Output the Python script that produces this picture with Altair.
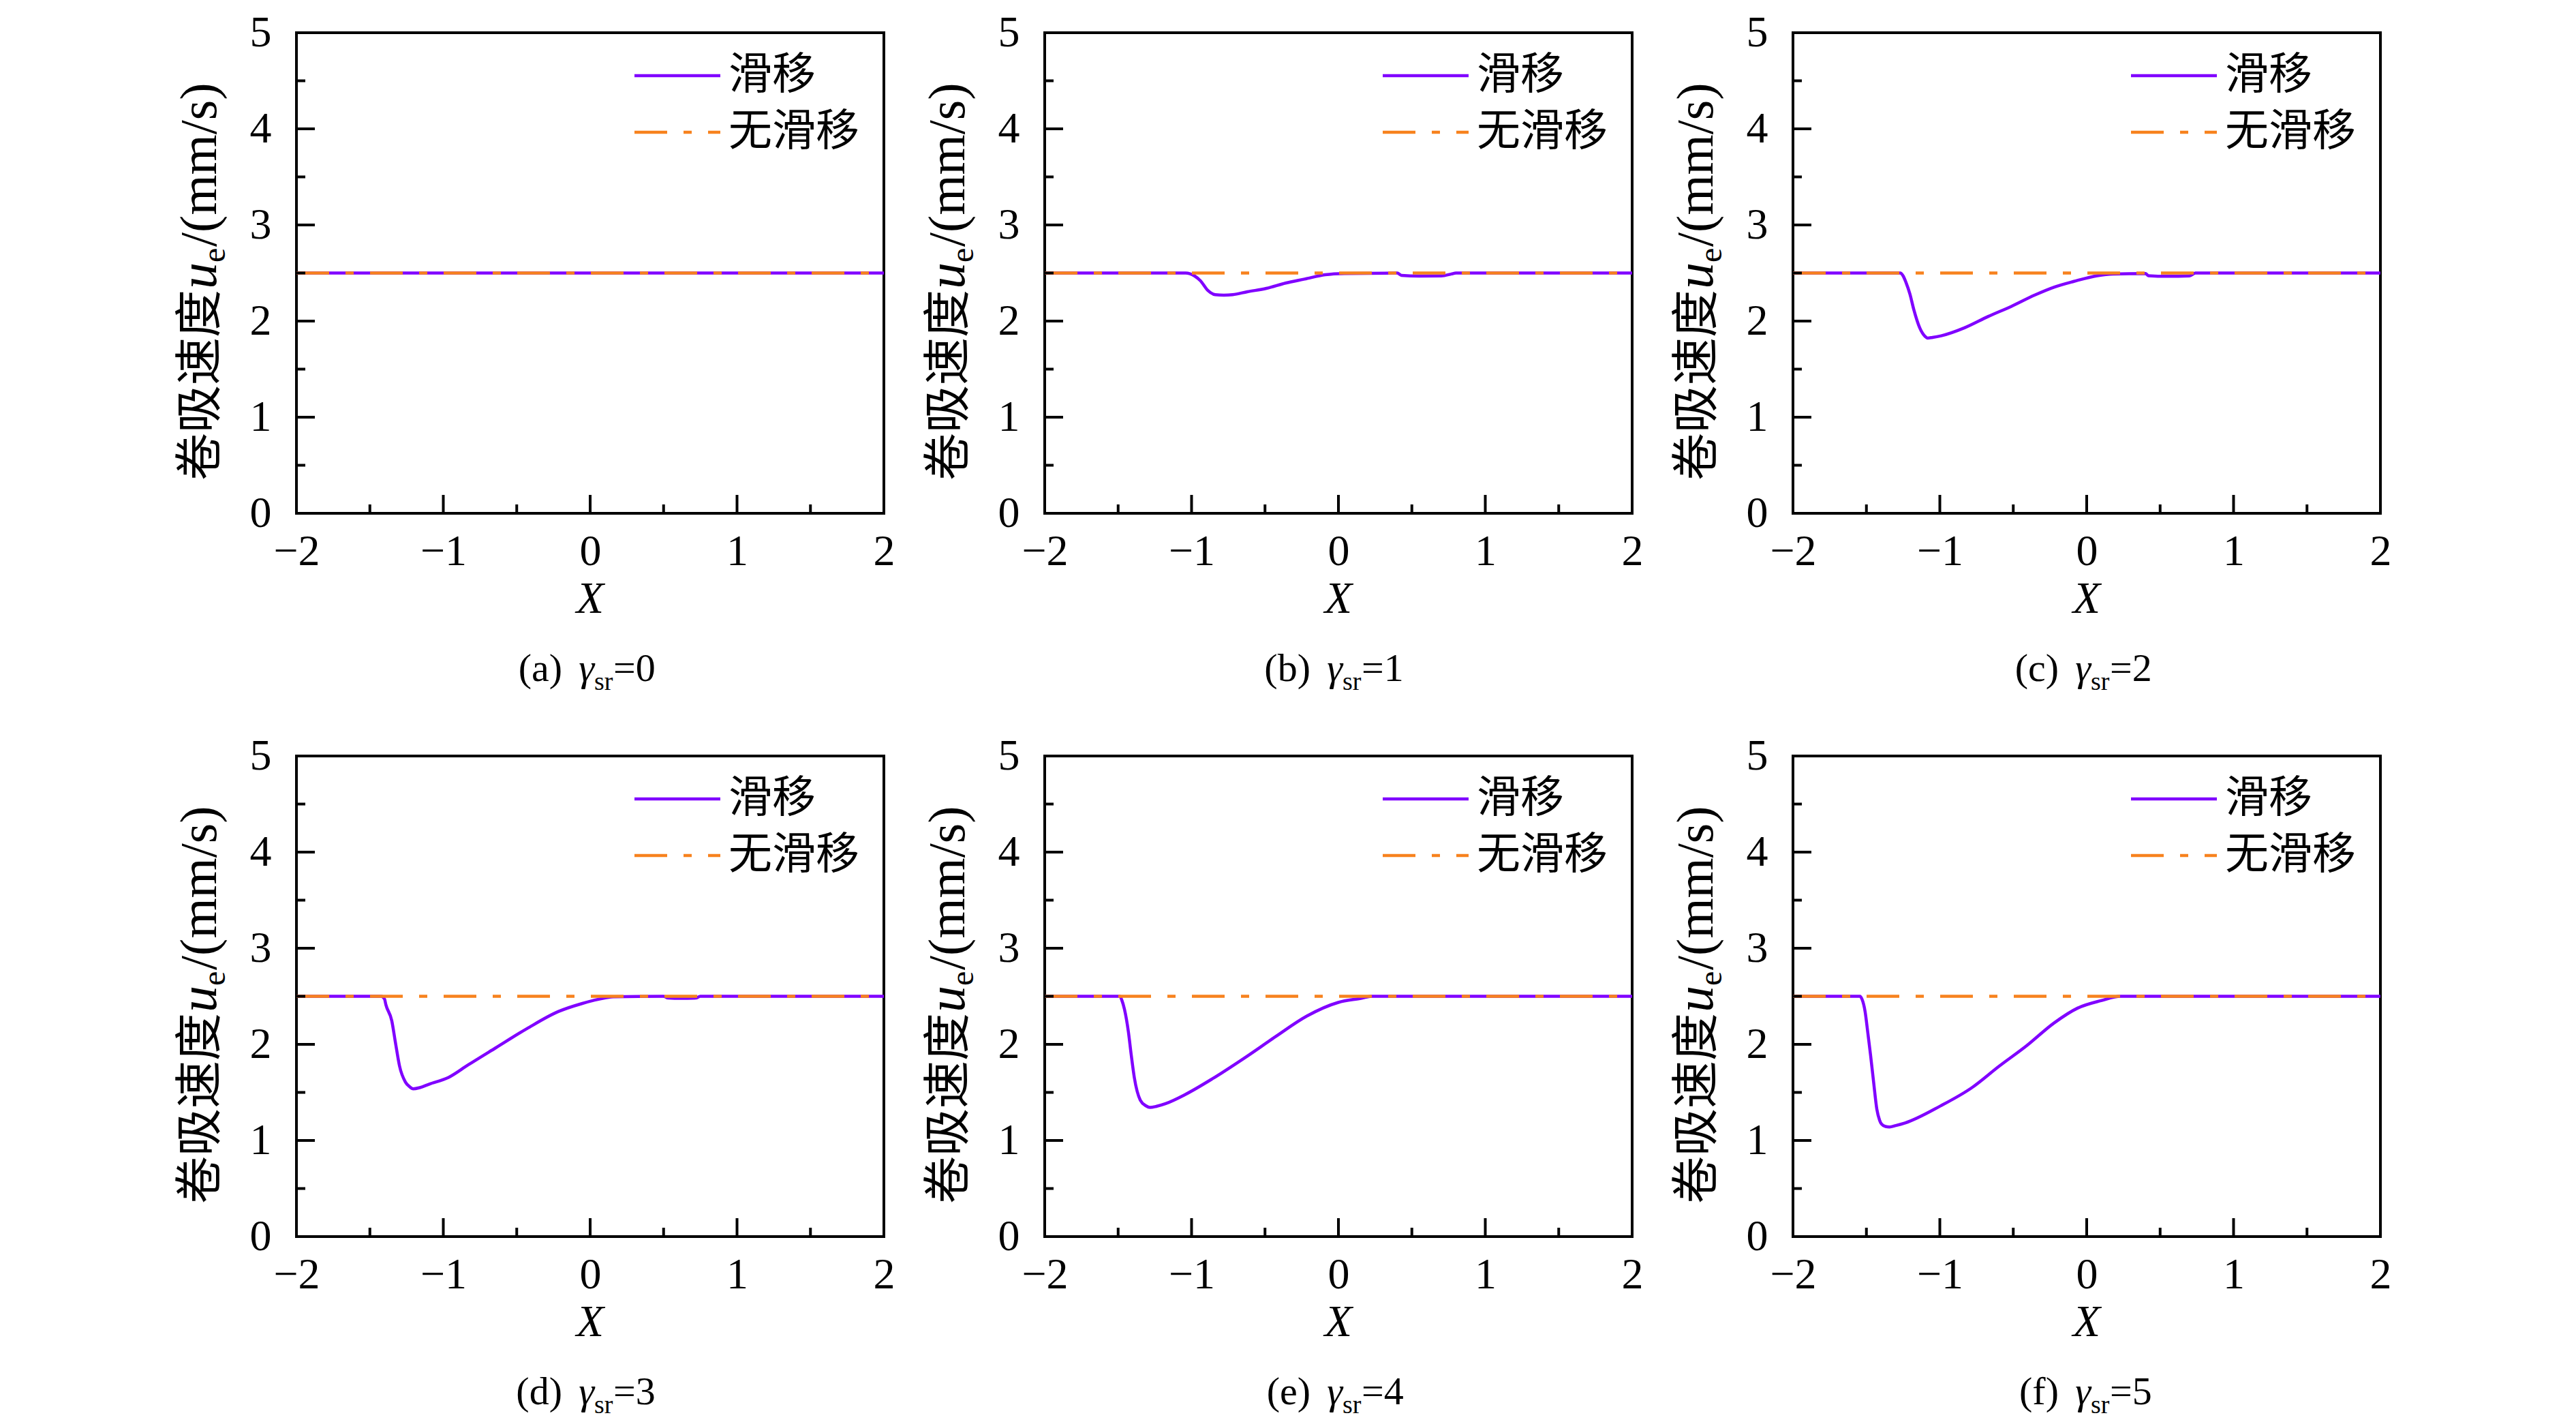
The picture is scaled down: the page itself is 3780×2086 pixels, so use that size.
import altair as alt
import pandas as pd

# ---------------- data ----------------
LETTERS = ["(a)", "(b)", "(c)", "(d)", "(e)", "(f)"]
GAMMA_SR = ["0", "1", "2", "3", "4", "5"]
SERIES = ["滑移", "无滑移"]

X_A = [-2.0, 2.0]
U_A = [2.5, 2.5]

X_B = [-2.0, -1.04, -0.98, -0.94, -0.89, -0.84, -0.78, -0.72, -0.62, -0.49, -0.36, -0.23, -0.09,
       0.04, 0.40, 0.43, 0.55, 0.70, 0.77, 0.80, 2.0]
U_B = [2.5, 2.5, 2.47, 2.42, 2.32, 2.275, 2.27, 2.275, 2.305, 2.34, 2.395, 2.437, 2.482,
       2.495, 2.5, 2.475, 2.468, 2.47, 2.49, 2.5, 2.5]

X_C = [-2.0, -1.27, -1.25, -1.23, -1.204, -1.177, -1.137, -1.10, -1.084, -1.05, -0.991, -0.832,
       -0.672, -0.513, -0.353, -0.22, -0.087, 0.072, 0.178, 0.40, 0.42, 0.55, 0.70, 0.74, 2.0]
U_C = [2.5, 2.5, 2.47, 2.40, 2.283, 2.118, 1.93, 1.84, 1.823, 1.83, 1.847, 1.93,
       2.047, 2.153, 2.271, 2.354, 2.413, 2.472, 2.49, 2.495, 2.472, 2.466, 2.47, 2.5, 2.5]

X_D = [-2.0, -1.423, -1.40, -1.391, -1.351, -1.325, -1.298, -1.258, -1.23, -1.205, -1.16, -1.098,
       -0.964, -0.831, -0.644, -0.43, -0.217, -0.057, 0.104, 0.157, 0.50, 0.53, 0.62, 0.72, 0.75, 2.0]
U_D = [2.5, 2.5, 2.47, 2.412, 2.247, 2.01, 1.774, 1.608, 1.56, 1.537, 1.55, 1.585,
       1.656, 1.786, 1.963, 2.164, 2.341, 2.424, 2.483, 2.495, 2.5, 2.482, 2.478, 2.482, 2.5, 2.5]

X_E = [-2.0, -1.488, -1.475, -1.457, -1.43, -1.411, -1.39, -1.349, -1.31, -1.283, -1.24, -1.176,
       -1.042, -0.856, -0.642, -0.428, -0.215, -0.001, 0.159, 0.225, 2.0]
U_E = [2.5, 2.5, 2.46, 2.365, 2.128, 1.892, 1.656, 1.419, 1.36, 1.344, 1.355, 1.384,
       1.479, 1.644, 1.856, 2.08, 2.294, 2.436, 2.48, 2.5, 2.5]

X_F = [-2.0, -1.544, -1.53, -1.509, -1.491, -1.472, -1.451, -1.429, -1.41, -1.397, -1.37, -1.343,
       -1.30, -1.237, -0.996, -0.783, -0.596, -0.409, -0.222, -0.062, 0.098, 0.232, 2.0]
U_F = [2.5, 2.5, 2.47, 2.342, 2.128, 1.892, 1.608, 1.325, 1.21, 1.171, 1.145, 1.14,
       1.155, 1.182, 1.359, 1.548, 1.773, 1.986, 2.223, 2.377, 2.455, 2.5, 2.5]

SLIP = [(X_A, U_A), (X_B, U_B), (X_C, U_C), (X_D, U_D), (X_E, U_E), (X_F, U_F)]

NOSLIP_X = [-2.0, 2.0]
NOSLIP_U = [2.5, 2.5]

X_MAJOR = [-2, -1, 0, 1, 2]
X_MINOR = [-1.5, -0.5, 0.5, 1.5]
Y_MAJOR = [0, 1, 2, 3, 4, 5]
Y_MINOR = [0.5, 1.5, 2.5, 3.5, 4.5]

# ---------------- styling ----------------
W, H = 862, 705
PURPLE = "#8000FF"
ORANGE = "#F7821E"
SERIF = "Liberation Serif"
CJK = "Noto Sans CJK SC"
DASH = [48, 24, 12, 24]
LW = 4.5

xscale = alt.Scale(domain=[-2, 2], nice=False, zero=False)
yscale = alt.Scale(domain=[0, 5], nice=False, zero=False)
color_enc = alt.Color("series:N", scale=alt.Scale(domain=SERIES, range=[PURPLE, ORANGE]), legend=None)
ONE = pd.DataFrame({"k": [0]})


def txt(s, x, y, size, font, align="left", baseline="alphabetic", angle=0, style="normal"):
    return alt.Chart(ONE).mark_text(
        text=s, align=align, baseline=baseline, angle=angle, font=font,
        fontSize=size, fontStyle=style, color="black"
    ).encode(x=alt.value(x), y=alt.value(y))


def panel(i):
    xs, us = SLIP[i]
    df = pd.DataFrame({
        "X": list(xs) + NOSLIP_X,
        "U": list(us) + NOSLIP_U,
        "series": [SERIES[0]] * len(xs) + [SERIES[1]] * len(NOSLIP_X),
    })
    xenc = alt.X("X:Q", scale=xscale, axis=alt.Axis(
        values=X_MAJOR, format="d", ticks=False, tickSize=0, domain=False, grid=False, title=None,
        labelFont=SERIF, labelFontSize=64, labelColor="black", labelPadding=75,
        labelBaseline="alphabetic", labelFlush=False, labelOverlap=False))
    yenc = alt.Y("U:Q", scale=yscale, axis=alt.Axis(
        values=Y_MAJOR, format="d", ticks=False, tickSize=0, domain=False, grid=False, title=None,
        labelFont=SERIF, labelFontSize=64, labelColor="black", labelPadding=37,
        labelFlush=False, labelOverlap=False))

    base = alt.Chart(df)
    slip = base.transform_filter(alt.datum.series == SERIES[0]).mark_line(
        strokeWidth=LW, interpolate="monotone").encode(x=xenc, y=yenc, color=color_enc)
    noslip = base.transform_filter(alt.datum.series == SERIES[1]).mark_line(
        strokeWidth=LW, strokeDash=DASH, strokeCap="butt").encode(x="X:Q", y="U:Q", color=color_enc)

    xt_major = alt.Chart(pd.DataFrame({"t": X_MAJOR})).mark_rule(color="black", strokeWidth=4).encode(
        x="t:Q", y=alt.value(H), y2=alt.value(H - 27))
    xt_minor = alt.Chart(pd.DataFrame({"t": X_MINOR})).mark_rule(color="black", strokeWidth=4).encode(
        x="t:Q", y=alt.value(H), y2=alt.value(H - 13))
    yt_major = alt.Chart(pd.DataFrame({"t": Y_MAJOR})).mark_rule(color="black", strokeWidth=4).encode(
        y="t:Q", x=alt.value(0), x2=alt.value(27))
    yt_minor = alt.Chart(pd.DataFrame({"t": Y_MINOR})).mark_rule(color="black", strokeWidth=4).encode(
        y="t:Q", x=alt.value(0), x2=alt.value(13))

    # legend (inside, top right)
    leg_rows = [63, 146]
    lx0, lx1, ltx = 496, 622, 634
    leg_slip = alt.Chart(pd.DataFrame({"series": [SERIES[0]]})).mark_rule(strokeWidth=LW).encode(
        x=alt.value(lx0), x2=alt.value(lx1), y=alt.value(leg_rows[0]), color=color_enc)
    leg_noslip = alt.Chart(pd.DataFrame({"series": [SERIES[1]]})).mark_rule(
        strokeWidth=LW, strokeDash=DASH, strokeCap="butt").encode(
        x=alt.value(lx0), x2=alt.value(lx1), y=alt.value(leg_rows[1]), color=color_enc)
    leg_t1 = txt(SERIES[0], ltx, leg_rows[0], 64, CJK, baseline="middle")
    leg_t2 = txt(SERIES[1], ltx, leg_rows[1], 64, CJK, baseline="middle")

    # y title: 卷吸速度 u_e /(mm/s)
    xb = -118
    yt1 = txt("卷吸速度", xb, 657, 70, CJK, angle=270)
    yt2 = txt("u", xb, 376, 78, SERIF, angle=270, style="italic")
    yt3 = txt("e", xb + 13, 337, 48, SERIF, angle=270)
    yt4 = txt("/(mm/s)", xb, 314, 76, SERIF, angle=270)

    # x title
    xtitle = txt("X", W / 2, H + 146, 66, SERIF, align="center", style="italic")

    # caption: (a) γ_sr=0
    xc = W / 2 + 6
    cy = H + 246
    c0 = txt(LETTERS[i], xc - 47, cy, 58, SERIF, align="right")
    c1 = txt("γ", xc, cy, 58, SERIF, align="right", style="italic")
    c2 = txt("sr", xc, cy + 13, 38, SERIF, align="left")
    c3 = txt("=" + GAMMA_SR[i], xc + 28, cy, 58, SERIF, align="left")

    return alt.layer(
        slip, noslip, xt_major, xt_minor, yt_major, yt_minor,
        leg_slip, leg_noslip, leg_t1, leg_t2,
        yt1, yt2, yt3, yt4, xtitle, c0, c1, c2, c3,
    ).properties(width=W, height=H)


chart = alt.concat(
    *[panel(i) for i in range(6)],
    columns=3, spacing={"row": 356, "column": 236}, bounds="flush",
).properties(
    padding={"left": 245, "top": 6, "right": 0, "bottom": 0},
    background="white",
).configure_view(stroke="black", strokeWidth=4)

chart.save("out.html", embed_options={"renderer": "svg", "actions": False})
